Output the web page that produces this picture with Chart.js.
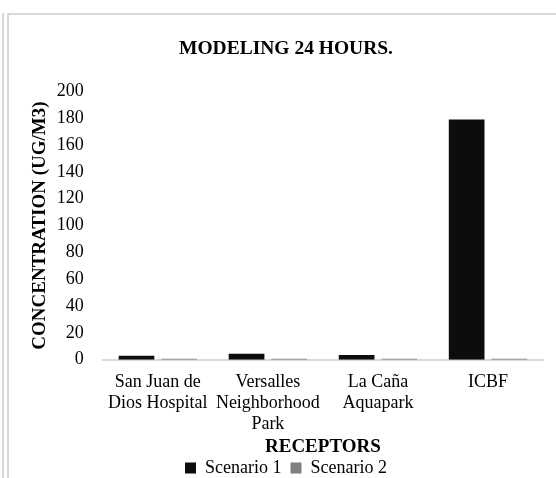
<!DOCTYPE html>
<html>
<head>
<meta charset="utf-8">
<script src="https://cdn.jsdelivr.net/npm/chart.js@4"></script>
<style>
  body { margin: 0; background: #fff; width: 556px; height: 478px; overflow: hidden; position: relative; }
  .frame-out { position: absolute; left: 2px; top: 13px; width: 0; height: 470px; border-left: 2px solid #d9d9d9; }
  .frame-in { position: absolute; left: 7px; top: 13px; width: 560px; height: 470px; border-left: 2px solid #d9d9d9; border-top: 2px solid #d9d9d9; }
  .wrap { position: absolute; left: 10px; top: 16px; width: 560px; height: 471px; }
</style>
</head>
<body>
<div class="frame-out"></div>
<div class="frame-in"></div>
<div class="wrap"><canvas id="chart-modeling"></canvas></div>
<script>
// Receptores e valores do modelo de 24 horas
const labels_receptors = [
  ['San Juan de', 'Dios Hospital'],
  ['Versalles', 'Neighborhood', 'Park'],
  ['La Caña', 'Aquapark'],
  'ICBF',
]

const scenario1 = [3, 4.5, 3.5, 179]
const scenario2 = [0.8, 0.8, 0.8, 0.8]

const y_ticks = [0, 20, 40, 60, 80, 100, 120, 140, 160, 180, 200]

const serif = 'Liberation Serif, Times New Roman, serif'

const data_modeling = {
  labels: labels_receptors,
  datasets: [{
    label: 'Scenario 1',
    backgroundColor: '#0d0d0d',
    borderColor: '#0d0d0d',
    data: scenario1,
    categoryPercentage: 0.775,
    barPercentage: 0.837,
  },
  {
    label: 'Scenario 2',
    backgroundColor: '#7f7f7f',
    borderColor: '#7f7f7f',
    data: scenario2,
    categoryPercentage: 0.775,
    barPercentage: 0.837,
  }]
};

const config_modeling = {
  type: 'bar',
  data: data_modeling,
  options: {
    responsive: true,
    maintainAspectRatio: false,
    animation: false,
    layout: { padding: { left: 19, right: 27, top: 21, bottom: 0 } },
    scales: {
      x: {
        grid: { display: false },
        border: { display: true, color: '#d9d9d9', width: 2 },
        ticks: {
          color: '#000',
          maxRotation: 0,
          autoSkip: false,
          padding: 4,
          font: { family: serif, size: 18, lineHeight: 1.17 },
        },
        title: {
          display: true,
          text: 'RECEPTORS',
          color: '#000',
          padding: { top: 0, bottom: 3 },
          font: { family: serif, size: 19, weight: 'bold', lineHeight: 0.9 },
        }
      },
      y: {
        min: 0,
        max: 200,
        afterBuildTicks: (axis) => { axis.ticks = y_ticks.map(v => ({ value: v })) },
        grid: { display: false },
        border: { display: false },
        ticks: {
          color: '#000',
          padding: 11,
          font: { family: serif, size: 18 },
        },
        title: {
          display: true,
          text: 'CONCENTRATION (UG/M3)',
          color: '#000',
          padding: { top: 0, bottom: -6 },
          font: { family: serif, size: 19, weight: 'bold' },
        }
      }
    },
    plugins: {
      title: {
        display: true,
        text: 'MODELING 24 HOURS.',
        color: '#000',
        padding: { top: 0, bottom: 31 },
        font: { family: serif, size: 19.5, weight: 'bold' },
      },
      legend: {
        position: 'bottom',
        labels: {
          color: '#000',
          boxWidth: 11,
          boxHeight: 11,
          padding: 0,
          font: { family: serif, size: 18 },
          // espaço entre os itens da legenda
          generateLabels: (chart) => Chart.defaults.plugins.legend.labels.generateLabels(chart)
            .map((l, i, a) => i < a.length - 1 ? { ...l, text: l.text + '\u00a0\u00a0' } : l),
        }
      },
      tooltip: { enabled: false },
    },
  },
};

const myChart_modeling = new Chart(
  document.getElementById('chart-modeling'),
  config_modeling
);
</script>
</body>
</html>
